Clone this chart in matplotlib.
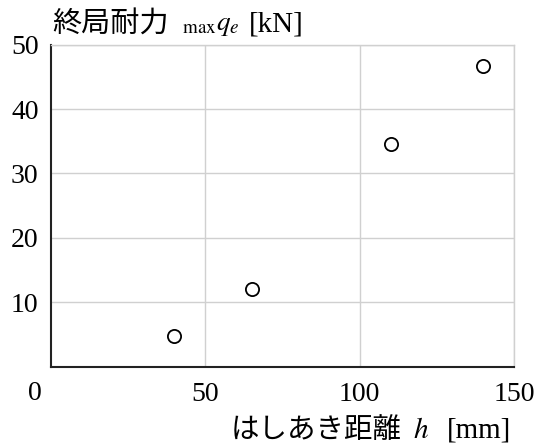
import matplotlib
matplotlib.use("Agg")
import matplotlib.pyplot as plt

# data
edge_distance_mm = [40, 65, 110, 140]
ultimate_load_kN = [4.8, 12.0, 34.5, 46.7]

x_ticks = [50, 100, 150]
y_ticks = [10, 20, 30, 40, 50]

plt.rcParams["font.family"] = ["Liberation Serif", "Noto Sans CJK JP"]
plt.rcParams["mathtext.fontset"] = "stix"
FS = 20
LFS = 21
W, H = 541, 445

fig = plt.figure(figsize=(W / 100, H / 100), dpi=100)
ax = fig.add_axes([0.0943, 0.1764, 0.8557, 0.7232])

ax.plot(edge_distance_mm, ultimate_load_kN, "o", mfc="white", mec="black",
        mew=1.3, ms=9.5, zorder=3, clip_on=False)

ax.set_xlim(0, 150)
ax.set_ylim(0, 50)
ax.set_xticks(x_ticks)
ax.set_yticks(y_ticks)
ax.tick_params(length=0, labelsize=FS)
ax.tick_params(axis="x", pad=11)
ax.tick_params(axis="y", pad=9)
ax.grid(True, color="#d0d0d0", lw=1)

for side in ("top", "right"):
    ax.spines[side].set_color("#d0d0d0")
    ax.spines[side].set_linewidth(1)
for side in ("left", "bottom"):
    ax.spines[side].set_color("#222222")
    ax.spines[side].set_linewidth(1.5)

# shared origin label
fig.text(35 / W, 1 - 393 / H, "0", fontsize=FS, ha="center", va="center")

# axis titles: CJK part and math part are separate texts (mathtext has no CJK fallback)
fig.text(52 / W, 1 - 24 / H, "終局耐力", fontsize=LFS, family="Noto Sans CJK JP",
         ha="left", va="center")
fig.text(182 / W, 1 - 25 / H, "$_{\\rm max}q_e$", fontsize=19.5,
         ha="left", va="center")
fig.text(304 / W, 1 - 25 / H, "[kN]", fontsize=LFS, ha="right", va="center")

fig.text(231 / W, 1 - 430 / H, "はしあき距離", fontsize=20.5,
         family="Noto Sans CJK JP", ha="left", va="center")
fig.text(421 / W, 1 - 431 / H, "$h$", fontsize=LFS, ha="center", va="center")
fig.text(511 / W, 1 - 431 / H, "[mm]", fontsize=LFS, ha="right", va="center")

fig.savefig("out.png", dpi=100)
